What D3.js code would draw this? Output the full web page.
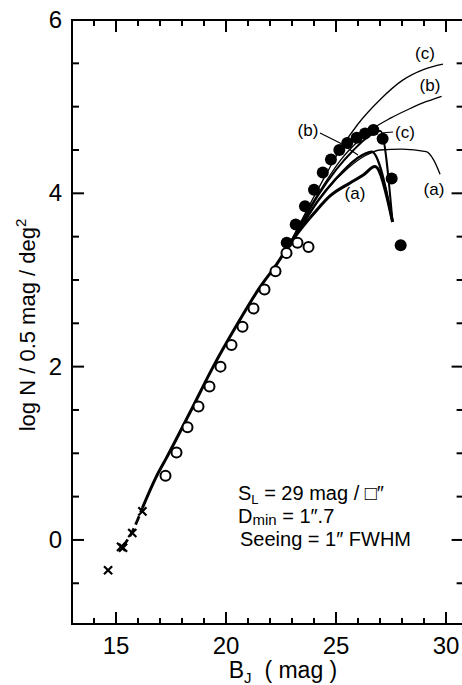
<!DOCTYPE html>
<html>
<head>
<meta charset="utf-8">
<script src="https://cdn.jsdelivr.net/npm/d3@7"></script>
<style>
  body { margin: 0; background: #fff; }
  text { font-family: "Liberation Sans", Arial, sans-serif; fill: #000; }
</style>
</head>
<body>
<div id="chart"></div>
<script>
var width = 462;
var height = 685;

// crosses
var crossX = [14.64, 15.23, 15.32, 15.74, 16.2];
var crossY = [-0.35, -0.08, -0.09, 0.08, 0.33];

// open circles
var openX = [17.25, 17.75, 18.25, 18.75, 19.25, 19.75, 20.25, 20.75, 21.25, 21.75, 22.25, 22.75, 23.25, 23.75];
var openY = [0.74, 1.01, 1.30, 1.54, 1.77, 2.00, 2.25, 2.46, 2.67, 2.89, 3.10, 3.31, 3.43, 3.38];

// filled circles
var filledX = [22.76, 23.17, 23.59, 24.0, 24.4, 24.77, 25.15, 25.51, 25.94, 26.32, 26.70, 27.12, 27.53, 27.94];
var filledY = [3.43, 3.64, 3.85, 4.04, 4.24, 4.39, 4.50, 4.58, 4.64, 4.69, 4.73, 4.63, 4.17, 3.40];

// model curves
var dashX = [15.3, 15.75, 16.2];
var dashY = [-0.08, 0.1, 0.37];
var trunkX = [16.2, 16.85, 17.3, 18.36, 19.42, 20.49, 21.5, 22.3, 22.9];
var trunkY = [0.37, 0.74, 0.95, 1.47, 2.0, 2.48, 2.9, 3.18, 3.42];

var aThickX = [22.9, 23.5, 24.0, 24.73, 25.64, 26.24, 26.77, 27.57];
var aThickY = [3.42, 3.62, 3.77, 3.97, 4.12, 4.21, 4.31, 3.67];
var bThickX = [22.9, 23.5, 24.2, 25.0, 25.94, 26.62, 27.57];
var bThickY = [3.42, 3.65, 3.92, 4.17, 4.40, 4.48, 3.67];
var cThickX = [22.9, 23.5, 24.2, 25.0, 25.8, 26.5, 27.02, 27.57];
var cThickY = [3.42, 3.68, 3.98, 4.27, 4.50, 4.66, 4.72, 3.67];

var aThinX = [22.9, 23.6, 24.5, 25.5, 26.3, 27.0, 28.0, 29.1, 29.45, 29.73];
var aThinY = [3.42, 3.70, 4.02, 4.28, 4.43, 4.50, 4.51, 4.48, 4.38, 4.22];
var bThinX = [22.9, 23.6, 24.4, 25.2, 26.0, 26.7, 27.5, 28.3, 29.12, 29.8];
var bThinY = [3.42, 3.75, 4.08, 4.38, 4.60, 4.75, 4.87, 4.97, 5.06, 5.12];
var cThinX = [22.9, 23.6, 24.4, 25.18, 26.0, 27.0, 28.0, 29.0, 29.86];
var cThinY = [3.42, 3.77, 4.15, 4.50, 4.80, 5.08, 5.30, 5.43, 5.49];

var xMajor = [15, 20, 25, 30];
var yMajor = [0, 2, 4, 6];

var svg = d3.select("#chart").append("svg")
  .attr("width", width)
  .attr("height", height);

var xScale = d3.scaleLinear().domain([13, 30.8]).range([72, 463.6]);
var yScale = d3.scaleLinear().domain([-0.97, 6]).range([624, 20]);

var xMinor = d3.range(14, 31).filter(d => d % 5 != 0);
var yMinor = d3.range(-0.5, 6, 0.5).filter(d => !yMajor.includes(d));

var plotLeft = 72, plotRight = 463.6, plotBottom = 624, plotTop = 20;

// frame
svg.append("rect")
  .attr("x", plotLeft).attr("y", plotTop)
  .attr("width", plotRight - plotLeft).attr("height", plotBottom - plotTop)
  .attr("fill", "none").attr("stroke", "#000").attr("stroke-width", 2);

// inward ticks on all four sides
var tickG = svg.append("g");
function addTick(ax, ay, bx, by) {
  tickG.append("line")
    .attr("x1", ax).attr("y1", ay).attr("x2", bx).attr("y2", by)
    .attr("stroke", "#000").attr("stroke-width", 2);
}
xMajor.forEach(v => { addTick(xScale(v), plotBottom, xScale(v), plotBottom - 12); addTick(xScale(v), plotTop, xScale(v), plotTop + 12); });
xMinor.forEach(v => { addTick(xScale(v), plotBottom, xScale(v), plotBottom - 6); addTick(xScale(v), plotTop, xScale(v), plotTop + 6); });
yMajor.forEach(v => { addTick(plotLeft, yScale(v), plotLeft + 12, yScale(v)); addTick(plotRight, yScale(v), plotRight - 12, yScale(v)); });
yMinor.forEach(v => { addTick(plotLeft, yScale(v), plotLeft + 7, yScale(v)); addTick(plotRight, yScale(v), plotRight - 7, yScale(v)); });

// tick labels
svg.append("g").selectAll("text").data(xMajor).enter().append("text")
  .attr("x", d => xScale(d)).attr("y", plotBottom + 30)
  .attr("text-anchor", "middle").style("font-size", "24px")
  .text(d => d);
svg.append("g").selectAll("text").data(yMajor).enter().append("text")
  .attr("x", plotLeft - 10).attr("y", d => yScale(d) + 8)
  .attr("text-anchor", "end").style("font-size", "24px")
  .text(d => d);

// axis titles
var xt = svg.append("text").attr("x", 283).attr("y", 678)
  .attr("text-anchor", "middle").style("font-size", "23px");
xt.append("tspan").text("B");
xt.append("tspan").attr("dy", 5).style("font-size", "15px").text("J");
xt.append("tspan").attr("dy", -5).text("\u00A0 (\u00A0mag\u00A0)");

var yt = svg.append("text")
  .attr("transform", "translate(35,325) rotate(-90)")
  .attr("text-anchor", "middle").style("font-size", "22px");
yt.append("tspan").text("log N / 0.5 mag / deg");
yt.append("tspan").attr("dy", -9).style("font-size", "15px").text("2");

// curves
var lineGen = d3.line()
  .x(d => xScale(d[0]))
  .y(d => yScale(d[1]))
  .curve(d3.curveMonotoneX);

function zip(xs, ys) { return xs.map((x, i) => [x, ys[i]]); }

function drawCurve(xs, ys, w, dash) {
  svg.append("path")
    .attr("d", lineGen(zip(xs, ys)))
    .attr("fill", "none")
    .attr("stroke", "#000")
    .attr("stroke-width", w)
    .attr("stroke-linejoin", "round")
    .attr("stroke-dasharray", dash || null);
}

drawCurve(dashX, dashY, 2.8, "9,4");
drawCurve(trunkX, trunkY, 3);
drawCurve(cThinX, cThinY, 1.3);
drawCurve(bThinX, bThinY, 1.3);
drawCurve(aThinX, aThinY, 1.3);
drawCurve(cThickX, cThickY, 2);
drawCurve(bThickX, bThickY, 2.4);
drawCurve(aThickX, aThickY, 3);

// markers
svg.append("g").selectAll("circle")
  .data(zip(openX, openY)).enter().append("circle")
  .attr("cx", d => xScale(d[0]))
  .attr("cy", d => yScale(d[1]))
  .attr("r", 5)
  .attr("fill", "#fff")
  .attr("stroke", "#000")
  .attr("stroke-width", 2);

svg.append("g").selectAll("circle")
  .data(zip(filledX, filledY)).enter().append("circle")
  .attr("cx", d => xScale(d[0]))
  .attr("cy", d => yScale(d[1]))
  .attr("r", 6)
  .attr("fill", "#000");

svg.append("g").selectAll("path")
  .data(zip(crossX, crossY)).enter().append("path")
  .attr("transform", d => `translate(${xScale(d[0])},${yScale(d[1])})`)
  .attr("d", d3.symbol().type(d3.symbolTimes).size(45))
  .attr("fill", "none")
  .attr("stroke", "#000")
  .attr("stroke-width", 2.2);

// curve labels
var labels = [
  { t: "(c)", x: 425, y: 59 },
  { t: "(b)", x: 430, y: 91 },
  { t: "(a)", x: 434, y: 195 },
  { t: "(c)", x: 405, y: 138 },
  { t: "(b)", x: 308, y: 136 },
  { t: "(a)", x: 355, y: 199 }
];
svg.append("g").selectAll("text").data(labels).enter().append("text")
  .attr("x", d => d.x).attr("y", d => d.y)
  .attr("text-anchor", "middle")
  .style("font-size", "17px")
  .text(d => d.t);

// leader lines
svg.append("path").attr("d", "M381,133 L393,132").attr("stroke", "#000").attr("stroke-width", 1.2);
svg.append("path").attr("d", "M320,133 L340,143 L358,155").attr("fill", "none").attr("stroke", "#000").attr("stroke-width", 1.2);

// annotation
var ann = svg.append("g").style("font-size", "20px");
var l1 = ann.append("text").attr("x", 238).attr("y", 500);
l1.append("tspan").text("S");
l1.append("tspan").attr("dy", 4).style("font-size", "13px").text("L");
l1.append("tspan").attr("dy", -4).text(" = 29 mag / \u25A1\u2033");
var l2 = ann.append("text").attr("x", 238).attr("y", 523);
l2.append("tspan").text("D");
l2.append("tspan").attr("dy", 2).style("font-size", "15px").text("min");
l2.append("tspan").attr("dy", -2).text(" = 1\u2033.7");
ann.append("text").attr("x", 240).attr("y", 546).text("Seeing = 1\u2033 FWHM");
</script>
</body>
</html>
